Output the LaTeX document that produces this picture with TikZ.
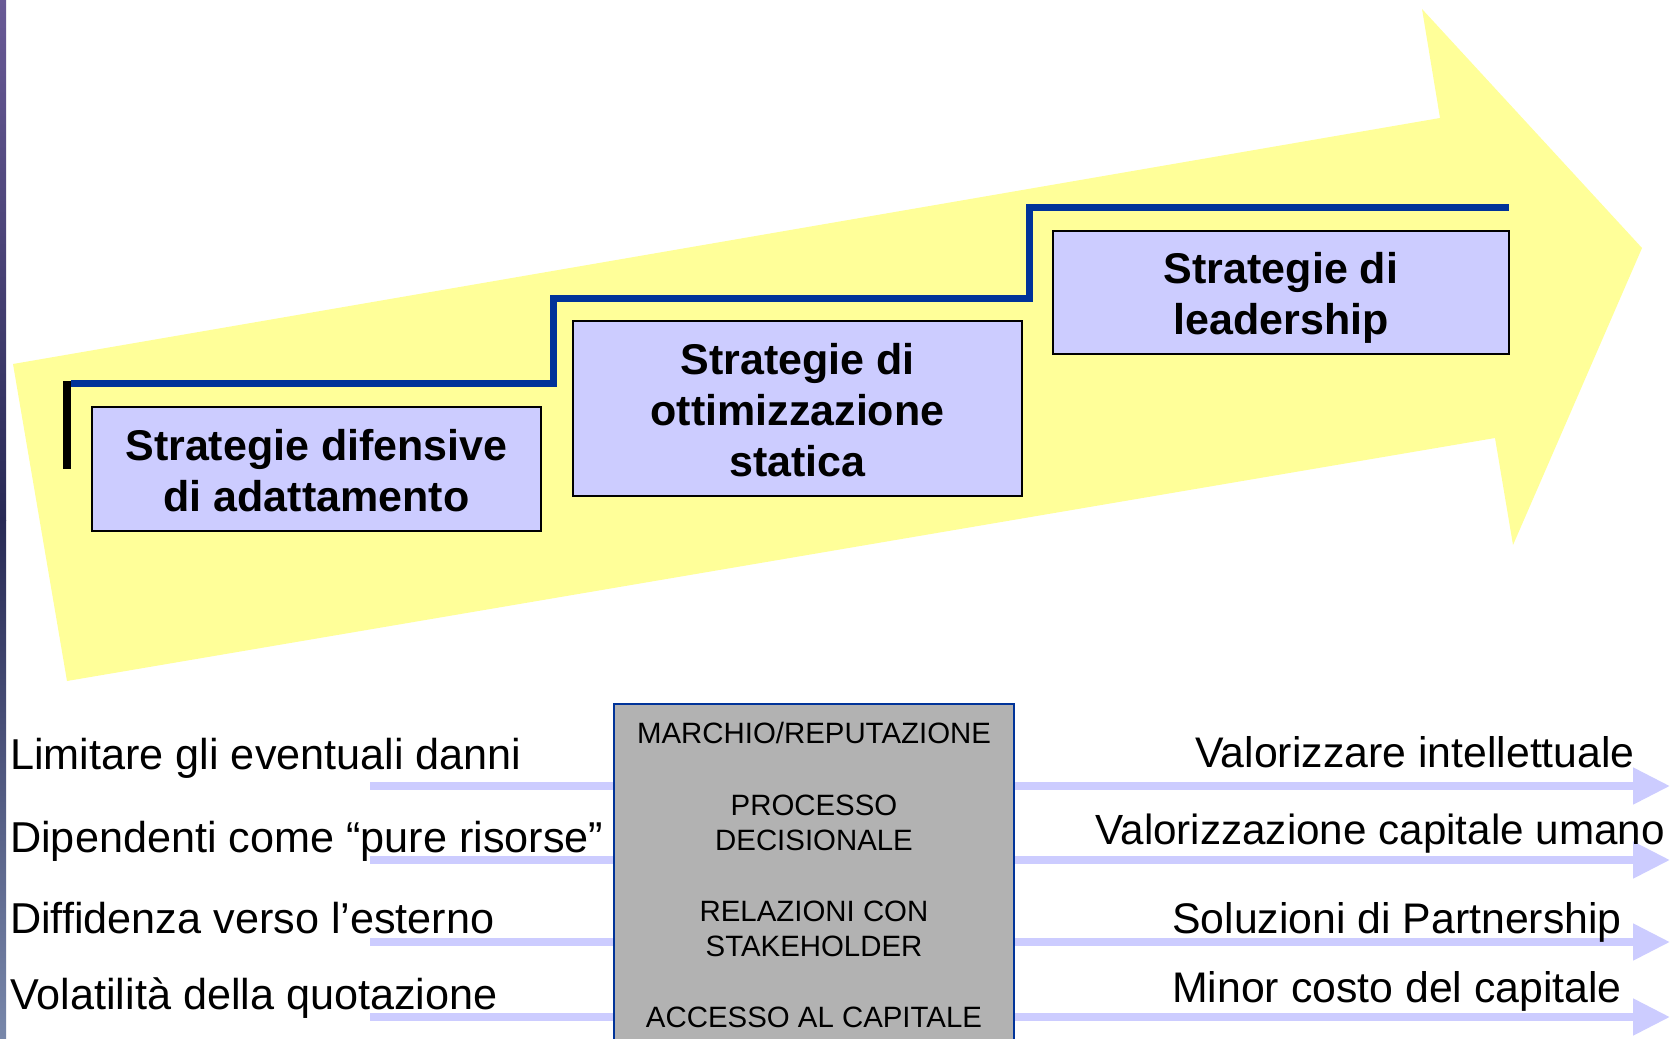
\documentclass[tikz,border=0pt]{standalone}
\usepackage{fontspec}
\setmainfont{Liberation Sans}
\usetikzlibrary{arrows.meta}
\definecolor{ylw}{RGB}{255,255,153}
\definecolor{lav}{RGB}{204,204,255}
\definecolor{stepblue}{RGB}{0,51,153}
\definecolor{coregray}{RGB}{178,178,178}
\definecolor{stripa}{RGB}{105,90,150}
\definecolor{stripb}{RGB}{40,42,85}
\definecolor{stripc}{RGB}{120,135,170}
\begin{document}
\begin{tikzpicture}[x=1pt,y=-1pt,
  stratbox/.style={draw=black, line width=2pt, fill=lav, inner sep=0pt},
  strattext/.style={align=center, font=\fontsize{43}{51}\selectfont\bfseries, inner sep=0pt},
  corebox/.style={draw=stepblue, line width=2pt, fill=coregray, inner sep=0pt},
  coretext/.style={align=center, font=\fontsize{29.4}{35}\selectfont, inner sep=0pt},
  lefttext/.style={font=\fontsize{43.2}{50}\selectfont, inner sep=0pt},
  righttext/.style={font=\fontsize{42.8}{50}\selectfont, inner sep=0pt},
  lavline/.style={draw=lav, line width=8pt, -{Triangle[length=37pt,width=35pt]}},
  steppath/.style={draw=stepblue, line width=7pt, line join=miter}]
\useasboundingbox (0,0) rectangle (1677,1038);
\fill[white] (0,0) rectangle (1677,1038);
% left strip
\shade[top color=stripa, bottom color=stripb] (0,0) rectangle (6,520);
\shade[top color=stripb, bottom color=stripc] (0,520) rectangle (6,1038);
% big yellow arrow
\fill[ylw] (13,364) -- (1440,118) -- (1422,9) -- (1642,248) -- (1513,545) -- (1495,438) -- (67,681) -- cycle;
% step line
\draw[steppath] (71,383) -- (553,383) -- (553,298) -- (1029,298) -- (1029,207) -- (1509,207);
\draw[line width=8pt] (67,381) -- (67,469);
% strategy boxes
\node[stratbox, minimum width=449pt, minimum height=124pt] (s1) at (316.5,469) {};
\node[strattext] (s1t) at (316.5,471) {Strategie difensive\\di adattamento};
\node[stratbox, minimum width=449pt, minimum height=175pt] (s2) at (797.5,408.5) {};
\node[strattext] (s2t) at (797.5,410.5) {Strategie di\\ottimizzazione\\statica};
\node[stratbox, minimum width=456pt, minimum height=123pt] (s3) at (1281,292.5) {};
\node[strattext] (s3t) at (1281,297.5) {Strategie di\\leadership};
% lavender arrows (behind core box)
\coordinate (a1) at (370,786); \coordinate (b1) at (1670,786);
\coordinate (a2) at (370,860); \coordinate (b2) at (1670,860);
\coordinate (a3) at (370,942); \coordinate (b3) at (1670,942);
\coordinate (a4) at (370,1017); \coordinate (b4) at (1670,1017);
\draw[lavline] (a1) -- (b1);
\draw[lavline] (a2) -- (b2);
\draw[lavline] (a3) -- (b3);
\draw[lavline] (a4) -- (b4);
% core box
\node[corebox, minimum width=400pt, minimum height=346pt] (core) at (814,877) {};
\node[coretext] (c1) at (814,733) {MARCHIO/REPUTAZIONE};
\node[coretext] (c2) at (814,822.5) {PROCESSO\\DECISIONALE};
\node[coretext] (c3) at (814,929) {RELAZIONI CON\\STAKEHOLDER};
\node[coretext] (c4) at (814,1017) {ACCESSO AL CAPITALE};
% left texts
\node[lefttext, anchor=base west] (l1) at (10,769) {Limitare gli eventuali danni};
\node[lefttext, anchor=base west] (l2) at (10,852) {Dipendenti come “pure risorse”};
\node[lefttext, anchor=base west] (l3) at (10,933) {Diffidenza verso l’esterno};
\node[lefttext, anchor=base west] (l4) at (10,1009) {Volatilità della quotazione};
% right texts
\node[righttext, anchor=base east] (r1) at (1635,767) {Valorizzare intellettuale};
\node[righttext, anchor=base east, font=\fontsize{42.2}{50}\selectfont] (r2) at (1665,844) {Valorizzazione capitale umano};
\node[righttext, anchor=base east] (r3) at (1622,933) {Soluzioni di Partnership};
\node[righttext, anchor=base east] (r4) at (1622,1002) {Minor costo del capitale};
\end{tikzpicture}
\end{document}
